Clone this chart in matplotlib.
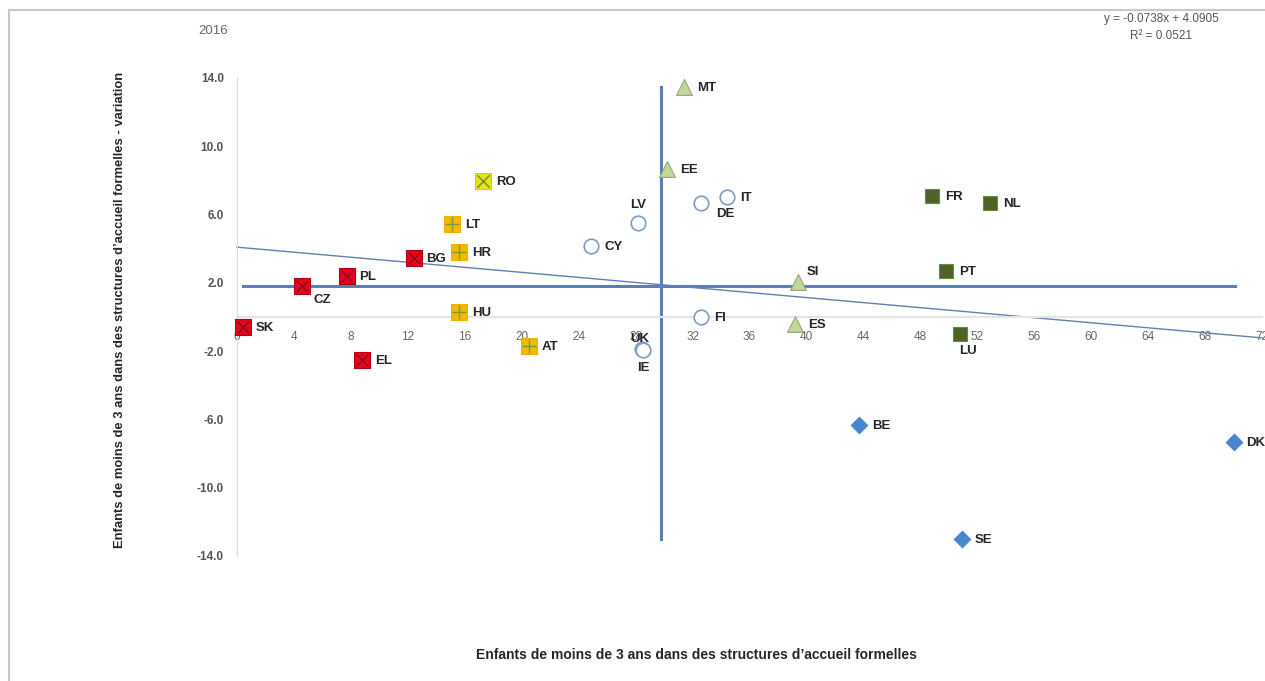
import numpy as np
import matplotlib
matplotlib.use("Agg")
import matplotlib.pyplot as plt
from matplotlib.lines import Line2D

# groups of countries (one marker style each)
red_c = ["SK", "CZ", "PL", "EL", "BG"]
red_x = [0.4, 4.6, 7.7, 8.8, 12.4]
red_y = [-0.6, 1.8, 2.4, -2.5, 3.45]

yel_c = ["LT", "HR", "HU", "AT"]
yel_x = [15.1, 15.6, 15.6, 20.5]
yel_y = [5.45, 3.8, 0.3, -1.7]

ro_c = ["RO"]
ro_x = [17.3]
ro_y = [7.95]

circ_c = ["CY", "LV", "UK", "IE", "DE", "IT", "FI"]
circ_x = [24.9, 28.2, 28.45, 28.55, 32.6, 34.4, 32.6]
circ_y = [4.15, 5.5, -1.85, -1.95, 6.65, 7.05, 0.0]

tri_c = ["MT", "EE", "SI", "ES"]
tri_x = [31.4, 30.2, 39.4, 39.2]
tri_y = [13.45, 8.65, 2.05, -0.4]

dg_c = ["FR", "NL", "PT", "LU"]
dg_x = [48.8, 52.9, 49.8, 50.8]
dg_y = [7.1, 6.7, 2.7, -1.0]

dia_c = ["BE", "SE", "DK"]
dia_x = [43.7, 50.9, 70.0]
dia_y = [-6.3, -13.0, -7.3]

# reference lines (averages) and trend
avg_x = 29.8
avg_y = 1.8
slope = -0.0738
intercept = 4.0905
r2 = 0.0521

x_ticks = list(range(0, 73, 4))
y_ticks = [-14, -10, -6, -2, 2, 6, 10, 14]

# label offsets in pixels (dx, dy, ha)
offsets = {
    "CZ": (11, -14, "left"), "LV": (0, 18, "center"), "UK": (-2, 10, "center"),
    "IE": (0, -18, "center"), "DE": (15, -11, "left"), "SI": (9, 10, "left"),
    "LU": (8, -17, "center"),
}

fig = plt.figure(figsize=(12.65, 6.81), dpi=100)
W, H = 1265, 681
ax = fig.add_axes([237 / W, 1 - 556 / H, (1262 - 237) / W, (556 - 78) / H])
ax.set_xlim(0, 72)
ax.set_ylim(-14, 14)

# chart border
fig.add_artist(Line2D([9 / W, 1], [1 - 10 / H, 1 - 10 / H], color="#c8c8c8", lw=1.5))
fig.add_artist(Line2D([9 / W, 9 / W], [0, 1 - 10 / H], color="#c8c8c8", lw=1.5))

for s in ["top", "right"]:
    ax.spines[s].set_visible(False)
ax.spines["left"].set_color("#d9d9d9")
ax.spines["bottom"].set_position(("data", 0))
ax.spines["bottom"].set_color("#e6e6e6")
ax.spines["bottom"].set_linewidth(1.5)
ax.tick_params(length=0)
ax.set_xticks(x_ticks)
ax.set_xticklabels([str(t) for t in x_ticks], color="#666666", fontsize=8.5,
                   family="Liberation Sans")
ax.tick_params(axis="x", pad=10)
ax.set_yticks(y_ticks)
ax.set_yticklabels(["%.1f" % t for t in y_ticks], color="#555555", fontsize=8.5,
                   fontweight="bold", family="Liberation Sans")
ax.tick_params(axis="y", pad=9.5)

line_col = "#5b7fb5"
ax.plot([avg_x, avg_x], [-13.0, 13.45], color=line_col, lw=2.2, zorder=2)
ax.plot([0.4, 70.1], [avg_y, avg_y], color=line_col, lw=2.2, zorder=2)
tx = np.array([0, 72])
ax.plot(tx, slope * tx + intercept, color="#6281b0", lw=1.0, zorder=2, clip_on=False)

def draw(xs, ys, **kw):
    ax.scatter(xs, ys, zorder=4, clip_on=False, **kw)

draw(red_x, red_y, marker="s", s=120, c="#e8001c", edgecolors="#b00018", linewidths=0.8)
draw(red_x, red_y, marker="x", s=70, c="#7a1020", linewidths=0.9)
draw(yel_x, yel_y, marker="s", s=120, c="#f5b800", edgecolors="#f0b000", linewidths=0.8)
draw(yel_x, yel_y, marker="+", s=90, c="#7a9a3a", linewidths=1.0)
draw(ro_x, ro_y, marker="s", s=130, c="#e3e31e", edgecolors="#d0d010", linewidths=0.8)
draw(ro_x, ro_y, marker="x", s=80, c="#7a8a2a", linewidths=1.0)
draw(circ_x, circ_y, marker="o", s=110, c="white", edgecolors="#7f9cc8", linewidths=1.2)
draw(tri_x, tri_y, marker="^", s=130, c="#c3d69b", edgecolors="#9aa87a", linewidths=0.8)
draw(dg_x, dg_y, marker="s", s=95, c="#4f6228", edgecolors="#6b8a3a", linewidths=0.8)
draw(dia_x, dia_y, marker="D", s=70, c="#4a86d0", edgecolors="#4a86d0", linewidths=0.8)

for cs, xs, ys in [(red_c, red_x, red_y), (yel_c, yel_x, yel_y), (ro_c, ro_x, ro_y),
                   (circ_c, circ_x, circ_y), (tri_c, tri_x, tri_y),
                   (dg_c, dg_x, dg_y), (dia_c, dia_x, dia_y)]:
    for c, x, y in zip(cs, xs, ys):
        dx, dy, ha = offsets.get(c, (13, -1, "left"))
        ax.annotate(c, (x, y), xytext=(dx, dy), textcoords="offset pixels",
                    ha=ha, va="center", fontsize=9.5, fontweight="bold",
                    color="#262626", family="Liberation Sans", zorder=5,
                    annotation_clip=False)

fig.text(1161 / W, 1 - 19 / H, "y = -0.0738x + 4.0905", ha="center", va="center",
         fontsize=8.5, color="#555555", family="Liberation Sans")
fig.text(1161 / W, 1 - 36 / H, "R² = %.4f" % r2, ha="center", va="center",
         fontsize=8.5, color="#555555", family="Liberation Sans")
fig.text(213 / W, 1 - 31 / H, "2016", ha="center", va="center", fontsize=9.5,
         color="#666666", family="Liberation Sans")

fig.text(120 / W, 1 - 310 / H,
         "Enfants de moins de 3 ans dans des structures d’accueil formelles - variation",
         rotation=90, ha="center", va="center", fontsize=9.4, fontweight="bold",
         color="#262626", family="Liberation Sans")
fig.text(696 / W, 1 - 655 / H,
         "Enfants de moins de 3 ans dans des structures d’accueil formelles",
         ha="center", va="center", fontsize=10, fontweight="bold",
         color="#262626", family="Liberation Sans")

fig.savefig("out.png", dpi=100)
